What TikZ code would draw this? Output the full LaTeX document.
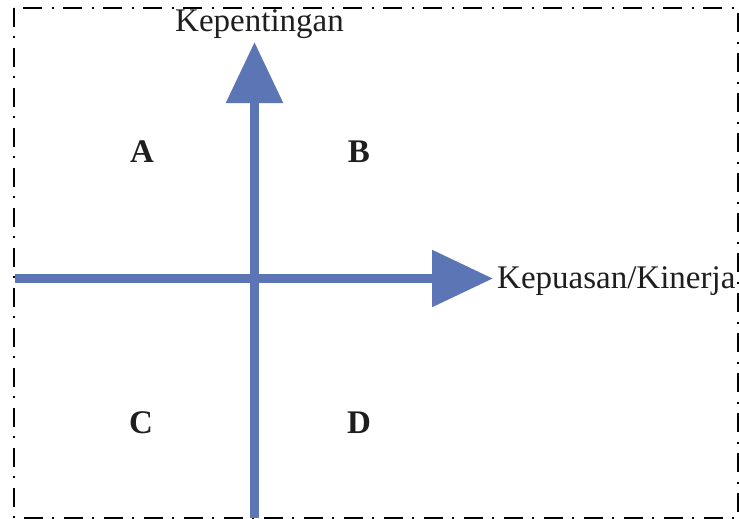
\documentclass[tikz,border=0pt]{standalone}
\usepackage{fontspec}
\setmainfont{Liberation Serif}
\usetikzlibrary{arrows.meta}
\definecolor{axisblue}{RGB}{92,118,181}
\definecolor{txt}{RGB}{30,30,30}
\tikzset{
  frameline/.style={line width=2.4pt, black, dash pattern=on 19pt off 9pt on 2pt off 10pt},
  axisline/.style={line width=9pt, axisblue, -{Triangle[length=61pt,width=55pt]}},
  axislabel/.style={font=\fontsize{33}{38}\selectfont, text=txt, inner sep=0pt},
  quadlabel/.style={font=\fontsize{33}{38}\selectfont\bfseries, text=txt, inner sep=0pt, anchor=base}
}
\begin{document}
\begin{tikzpicture}[x=1pt,y=-1pt]
\useasboundingbox (0,0) rectangle (739,519);
\draw[frameline] (14,8) rectangle (738,518);
\coordinate (vb) at (254.5,518);
\coordinate (vt) at (254.5,42);
\coordinate (hl) at (15,278.5);
\coordinate (hr) at (493,278.5);
\draw[axisline] (vb) -- (vt);
\draw[axisline] (hl) -- (hr);
\node[axislabel, anchor=base] (ylab) at (259.5,32) {Kepentingan};
\node[axislabel, anchor=base west] (xlab) at (497,288) {Kepuasan/Kinerja};
\node[quadlabel] (qa) at (142,162) {A};
\node[quadlabel] (qb) at (359,162) {B};
\node[quadlabel] (qc) at (141,433) {C};
\node[quadlabel] (qd) at (359,433) {D};
\end{tikzpicture}
\end{document}
